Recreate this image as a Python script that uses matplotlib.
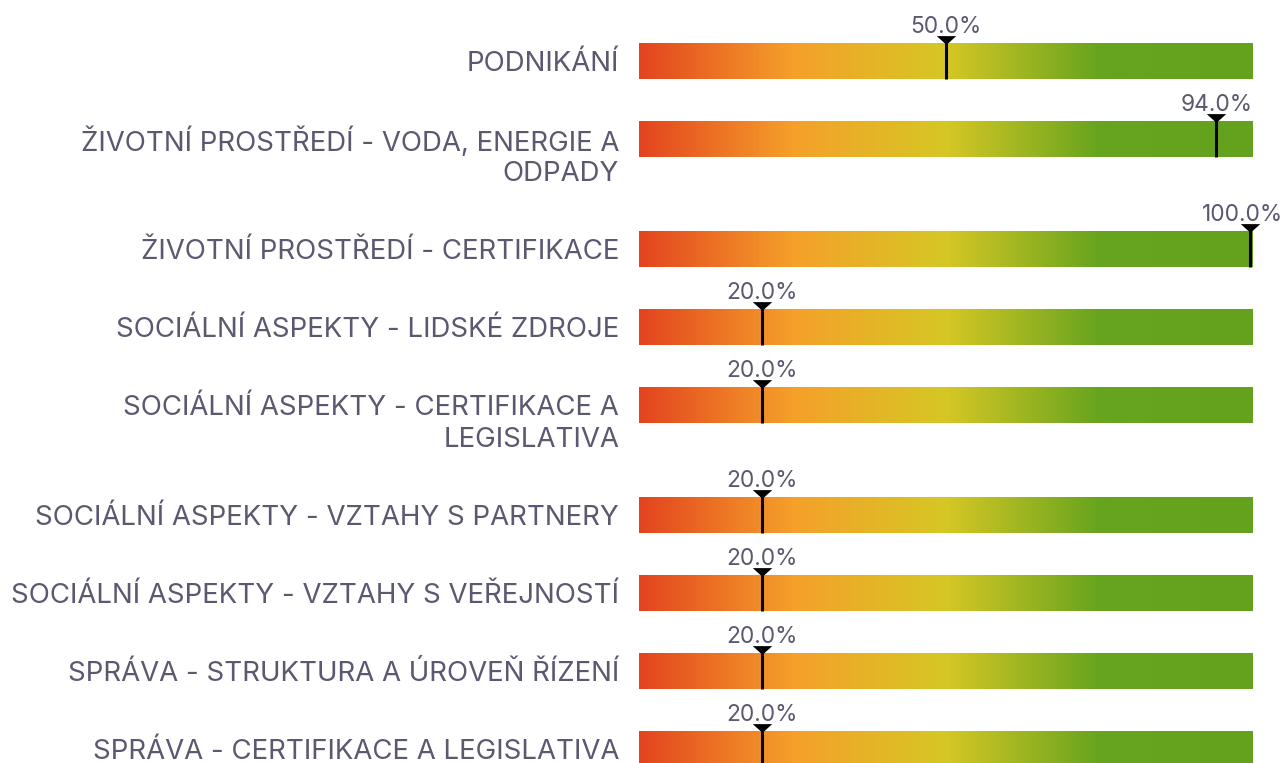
import matplotlib.pyplot as plt
import numpy as np
from matplotlib.colors import LinearSegmentedColormap

# data
labels = [
    "PODNIKÁNÍ",
    "ŽIVOTNÍ PROSTŘEDÍ - VODA, ENERGIE A\nODPADY",
    "ŽIVOTNÍ PROSTŘEDÍ - CERTIFIKACE",
    "SOCIÁLNÍ ASPEKTY - LIDSKÉ ZDROJE",
    "SOCIÁLNÍ ASPEKTY - CERTIFIKACE A\nLEGISLATIVA",
    "SOCIÁLNÍ ASPEKTY - VZTAHY S PARTNERY",
    "SOCIÁLNÍ ASPEKTY - VZTAHY S VEŘEJNOSTÍ",
    "SPRÁVA - STRUKTURA A ÚROVEŇ ŘÍZENÍ",
    "SPRÁVA - CERTIFIKACE A LEGISLATIVA",
]
values = [50.0, 94.0, 100.0, 20.0, 20.0, 20.0, 20.0, 20.0, 20.0]

grad_pos = [0.0, 0.25, 0.5, 0.75, 1.0]
grad_cols = ["#E3441F", "#F5A02A", "#D6C725", "#67A41E", "#64A21E"]

text_col = "#5B5870"
W, H = 1285, 763

cmap = LinearSegmentedColormap.from_list("score", list(zip(grad_pos, grad_cols)))
grad = np.linspace(0, 1, 512).reshape(1, -1)

# flat downward triangle for the pointer
tri = [(-1, 0.45), (1, 0.45), (0, -0.45), (-1, 0.45)]

fig = plt.figure(figsize=(W / 100, H / 100), dpi=100)
# bar area spans pixels 639..1253; y axis in pixels from the top
ax = fig.add_axes([639 / W, 0, 614 / W, 1])
ax.set_xlim(0, 100)
ax.set_ylim(H, 0)
ax.axis("off")

line_h = 32
bar_h = 36
px = 100 / 614  # one pixel in x data units

yc = 61
for lab, val in zip(labels, values):
    lines = lab.split("\n")
    top, bot = yc - bar_h / 2, yc + bar_h / 2
    ax.imshow(grad, cmap=cmap, aspect="auto", extent=(0, 100, bot, top),
              interpolation="bilinear", zorder=1)
    for i, ln in enumerate(lines):
        ax.text(-20 * px, yc + i * line_h, ln, ha="right", va="center_baseline",
                fontsize=19.9, color=text_col, family="Inter", clip_on=False)
    xm = min(val, 99.5)
    ax.vlines(xm, top, bot, color="black", lw=2.2, zorder=3)
    ax.plot(xm, top - 3, marker=tri, ms=14, color="black", mew=0, zorder=4,
            clip_on=False)
    # keep the value label inside the figure near the right end
    ax.text(min(val, 98.3), top - 10, f"{val:.1f}%", ha="center", va="baseline",
            fontsize=16.4, color=text_col, family="Inter", clip_on=False)
    yc += 78 + line_h * (len(lines) - 1)

ax.set_ylim(H, 0)
fig.savefig("out.png", dpi=100)
